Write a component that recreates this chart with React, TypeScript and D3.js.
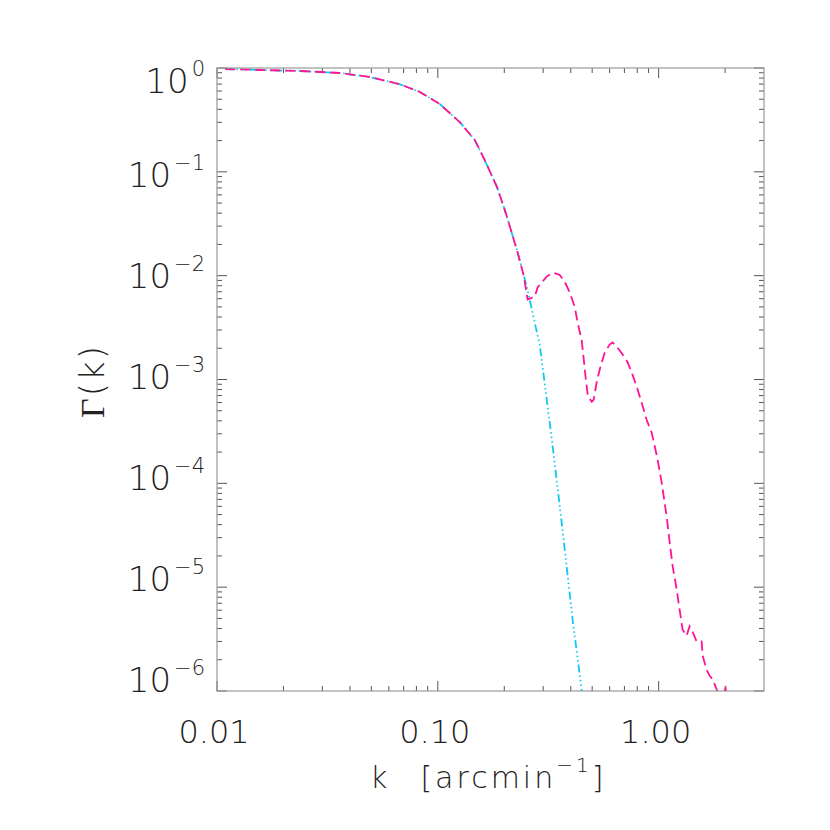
import React from 'react';
import * as d3 from 'd3';

const cyanK = [0.0109, 0.0157, 0.0238, 0.036, 0.049, 0.067, 0.083, 0.102, 0.126, 0.147, 0.163, 0.185, 0.201, 0.228, 0.253, 0.290, 0.331, 0.368, 0.409, 0.449, 0.47];
const cyanG = [0.978, 0.957, 0.936, 0.895, 0.82, 0.70, 0.588, 0.45, 0.30, 0.203, 0.13, 0.072, 0.043, 0.0178, 0.0078, 0.0021, 2.3e-4, 3.4e-5, 4.6e-6, 1.0e-6, 4e-7];

const magK = [0.0109, 0.0157, 0.0238, 0.036, 0.049, 0.067, 0.083, 0.102, 0.126, 0.147, 0.163, 0.185, 0.201, 0.228, 0.245, 0.255, 0.275, 0.283, 0.311, 0.331, 0.356, 0.376, 0.396, 0.417, 0.430, 0.448, 0.458, 0.468, 0.478, 0.498, 0.508, 0.524, 0.541, 0.570, 0.600, 0.619, 0.652, 0.687, 0.724, 0.755, 0.795, 0.837, 0.882, 0.929, 0.959, 0.989, 1.032, 1.087, 1.122, 1.157, 1.206, 1.244, 1.284, 1.339, 1.381, 1.425, 1.486, 1.566, 1.582, 1.649, 1.702, 1.755, 1.830, 1.9, 2.01, 2.1];
const magG = [0.978, 0.957, 0.936, 0.895, 0.82, 0.70, 0.588, 0.45, 0.30, 0.203, 0.13, 0.072, 0.043, 0.0178, 0.0100, 0.0059, 0.0063, 0.0077, 0.0098, 0.0107, 0.0102, 0.0087, 0.0069, 0.0050, 0.0035, 0.0024, 0.00156, 0.0010, 6.9e-4, 6.1e-4, 6.4e-4, 9.4e-4, 1.25e-3, 1.82e-3, 2.17e-3, 2.27e-3, 2.03e-3, 1.74e-3, 1.46e-3, 1.17e-3, 8.6e-4, 6.0e-4, 4.1e-4, 3.1e-4, 2.3e-4, 1.7e-4, 1.02e-4, 4.8e-5, 2.7e-5, 1.6e-5, 9.6e-6, 6.1e-6, 3.9e-6, 3.4e-6, 4.2e-6, 3.7e-6, 3.0e-6, 3.0e-6, 2.2e-6, 1.6e-6, 1.4e-6, 1.3e-6, 1.04e-6, 8e-7, 1.06e-6, 5e-7];

const xTickValues = [0.01, 0.1, 1];
const xTickLabels = ['0.01', '0.10', '1.00'];
const yTickExps = [0, -1, -2, -3, -4, -5, -6];

const FONT = '"DejaVu Sans", sans-serif';

export default function App() {
  const W = 830, H = 830;
  const L = 217, R = 764, T = 68, B = 691;
  const x = d3.scaleLog().domain([0.01, 3]).range([L, R]);
  const y = d3.scaleLog().domain([1e-6, 1]).range([B, T]);

  const line = d3.line<[number, number]>().x(d => x(d[0])).y(d => y(d[1]));
  const cyanPath = line(cyanK.map((k, i) => [k, cyanG[i]]) as [number, number][]) || '';
  const magPath = line(magK.map((k, i) => [k, magG[i]]) as [number, number][]) || '';

  const xMinor: number[] = [];
  [0.01, 0.1, 1].forEach(d => { for (let m = 2; m <= 9; m++) { const v = d * m; if (v < 3) xMinor.push(v); } });
  const yMinor: number[] = [];
  for (let e = -6; e < 0; e++) for (let m = 2; m <= 9; m++) yMinor.push(m * Math.pow(10, e));

  const tickColor = '#555';
  const major = 10, minor = 5;
  const labelOffset = (e: number) => (e === 0 ? 25 : 15 - 2.8 * (Math.abs(e) - 1));

  return (
    <svg width={W} height={H} style={{ position: 'absolute', left: 0, top: 0, background: '#fff' }}>
      <defs>
        <clipPath id="plot"><rect x={L} y={T} width={R - L} height={B - T} /></clipPath>
      </defs>
      <rect x={0} y={0} width={W} height={H} fill="#fff" />
      <g stroke={tickColor} strokeWidth={1}>
        {xTickValues.map(v => (
          <g key={'xM' + v}>
            <line x1={x(v)} x2={x(v)} y1={B} y2={B - major} />
            <line x1={x(v)} x2={x(v)} y1={T} y2={T + major} />
          </g>
        ))}
        {xMinor.map(v => (
          <g key={'xm' + v}>
            <line x1={x(v)} x2={x(v)} y1={B} y2={B - minor} />
            <line x1={x(v)} x2={x(v)} y1={T} y2={T + minor} />
          </g>
        ))}
        {yTickExps.map(e => (
          <g key={'yM' + e}>
            <line x1={L} x2={L + major} y1={y(Math.pow(10, e))} y2={y(Math.pow(10, e))} />
            <line x1={R} x2={R - major} y1={y(Math.pow(10, e))} y2={y(Math.pow(10, e))} />
          </g>
        ))}
        {yMinor.map(v => (
          <g key={'ym' + v}>
            <line x1={L} x2={L + minor} y1={y(v)} y2={y(v)} />
            <line x1={R} x2={R - minor} y1={y(v)} y2={y(v)} />
          </g>
        ))}
      </g>
      <g clipPath="url(#plot)" fill="none">
        <path d={cyanPath} stroke="#12c8f2" strokeWidth={1.8} strokeDasharray="8 3 1.5 3 1.5 3 1.5 3" />
        <path d={magPath} stroke="#ff1493" strokeWidth={1.8} strokeDasharray="10 5" />
      </g>
      <rect x={L} y={T} width={R - L} height={B - T} fill="none" stroke="#999" strokeWidth={1.2} />
      <g fontFamily={FONT} fontWeight={200} fontSize={32} fill="#222" textAnchor="middle">
        {xTickValues.map((v, i) => (
          <text key={'xl' + v} x={x(v) - 3} y={743}>{xTickLabels[i]}</text>
        ))}
      </g>
      <g fontFamily={FONT} fontWeight={200} fill="#222" textAnchor="end">
        {yTickExps.map(e => (
          <text key={'yl' + e} x={205} y={y(Math.pow(10, e)) + labelOffset(e)} fontSize={34}>
            10<tspan dx={3} dy={-17} fontSize={21}>{e === 0 ? '0' : '\u2212' + Math.abs(e)}</tspan>
          </text>
        ))}
      </g>
      <text x={370} y={788} fontFamily={FONT} fontWeight={200} fontSize={30} fill="#222" letterSpacing={3}>
        k<tspan dx={30}>[arcmin</tspan><tspan dy={-16} fontSize={20}>{'\u22121'}</tspan><tspan dy={16} dx={0}>]</tspan>
      </text>
      <text transform={`translate(104, 381) rotate(-90)`} textAnchor="middle" fontFamily={FONT} fontWeight={200} fontSize={34} fill="#222" letterSpacing={2}>
        <tspan fontFamily='"Liberation Serif", serif' fontWeight={400}>Γ</tspan>(k)
      </text>
    </svg>
  );
}
